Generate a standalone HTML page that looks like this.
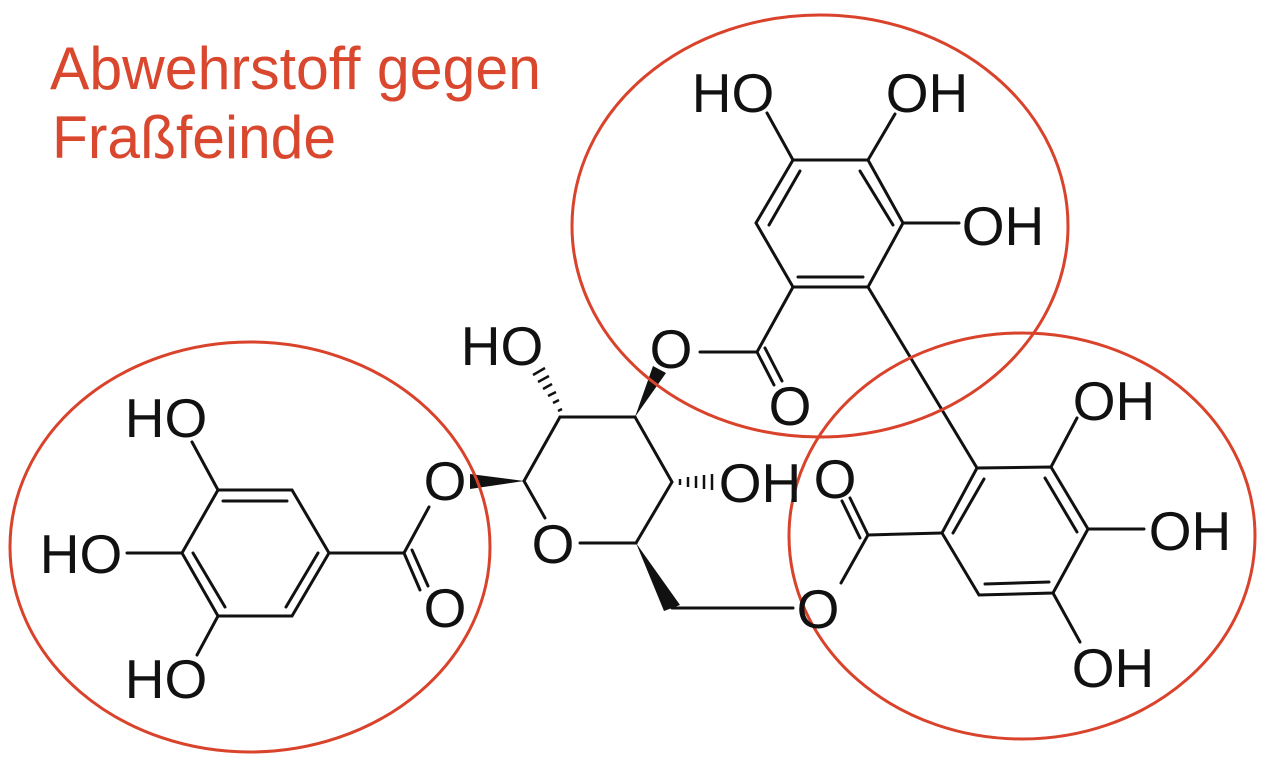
<!DOCTYPE html>
<html><head><meta charset="utf-8"><style>
html,body{margin:0;padding:0;background:#fff;}
svg{display:block;}
text{font-family:"Liberation Sans",Arial,sans-serif;}
</style></head><body>
<svg width="1272" height="766" viewBox="0 0 1272 766" xmlns="http://www.w3.org/2000/svg">
<g fill="#d9482e" font-size="60">
<text x="50" y="89" textLength="491" lengthAdjust="spacingAndGlyphs">Abwehrstoff gegen</text>
<text x="52" y="158" textLength="284" lengthAdjust="spacingAndGlyphs">Fraßfeinde</text>
</g>
<g fill="none" stroke="#111" stroke-width="3" stroke-linecap="round">
<polyline points="218,490 292,490 329,553 292,616 218,616 182,553 218,490"/>
<line x1="223" y1="501" x2="287" y2="501"/>
<line x1="193" y1="553" x2="225" y2="607"/>
<line x1="318" y1="553" x2="286" y2="607"/>
<line x1="218" y1="490" x2="192" y2="442"/>
<line x1="182" y1="553" x2="127" y2="553"/>
<line x1="218" y1="616" x2="197" y2="655"/>
<line x1="329" y1="553" x2="404" y2="553"/>
<line x1="404" y1="553" x2="429" y2="507"/>
<line x1="404" y1="553" x2="420" y2="590"/>
<line x1="412" y1="550" x2="428" y2="586"/>
<line x1="524" y1="481" x2="560" y2="417"/>
<line x1="560" y1="417" x2="635" y2="417"/>
<line x1="635" y1="417" x2="672" y2="482"/>
<line x1="672" y1="482" x2="636" y2="543"/>
<line x1="636" y1="543" x2="580" y2="543"/>
<line x1="524" y1="481" x2="545" y2="518"/>
<line x1="672" y1="608" x2="793" y2="608"/>
<polyline points="793,160 868,160 903,223 868,287 793,287 756,223 793,160"/>
<line x1="800" y1="171" x2="769" y2="225"/>
<line x1="860" y1="171" x2="893" y2="225"/>
<line x1="798" y1="277" x2="863" y2="277"/>
<line x1="793" y1="160" x2="767" y2="113"/>
<line x1="868" y1="160" x2="895" y2="114"/>
<line x1="903" y1="223" x2="959" y2="223"/>
<line x1="793" y1="287" x2="757" y2="352"/>
<line x1="757" y1="352" x2="700" y2="352"/>
<line x1="757" y1="352" x2="774" y2="385"/>
<line x1="765" y1="348" x2="782" y2="381"/>
<line x1="868" y1="287" x2="977" y2="468"/>
<polyline points="977,468 1051,467 1088,529 1053,593 979,595 942,533 977,468"/>
<line x1="984" y1="479" x2="953" y2="533"/>
<line x1="1045" y1="478" x2="1077" y2="532"/>
<line x1="985" y1="584" x2="1049" y2="582"/>
<line x1="1051" y1="467" x2="1077" y2="418"/>
<line x1="1088" y1="529" x2="1144" y2="529"/>
<line x1="1053" y1="593" x2="1080" y2="642"/>
<line x1="942" y1="533" x2="868" y2="535"/>
<line x1="868" y1="535" x2="850" y2="498"/>
<line x1="860" y1="538" x2="842" y2="501"/>
<line x1="868" y1="535" x2="841" y2="583"/>
</g>
<g fill="#111">
<polygon points="470,474 470,489 524,481"/>
<polygon points="635,417 653,366 666,373"/>
<polygon points="636,543 664,611 680,605"/>
</g>
<g stroke="#111" stroke-width="2.5">
<line x1="558" y1="411" x2="562" y2="409"/>
<line x1="553" y1="403" x2="559" y2="400"/>
<line x1="548" y1="396" x2="556" y2="392"/>
<line x1="543" y1="389" x2="552" y2="384"/>
<line x1="538" y1="382" x2="549" y2="376"/>
<line x1="533" y1="375" x2="545" y2="368"/>
<line x1="680" y1="479" x2="680" y2="485"/>
<line x1="688" y1="477" x2="688" y2="487"/>
<line x1="696" y1="476" x2="696" y2="488"/>
<line x1="704" y1="475" x2="704" y2="489"/>
<line x1="712" y1="474" x2="712" y2="490"/>
</g>
<g fill="none" stroke="#d9432b" stroke-width="3">
<ellipse cx="250" cy="547" rx="240" ry="205"/>
<ellipse cx="820" cy="226" rx="248" ry="211"/>
<ellipse cx="1022" cy="536" rx="233" ry="203"/>
</g>
<g fill="#111" font-size="55" text-anchor="middle">
<text x="166" y="437">HO</text>
<text x="81" y="573">HO</text>
<text x="166" y="698">HO</text>
<text x="445" y="500">O</text>
<text x="445" y="627">O</text>
<text x="502" y="365">HO</text>
<text x="553" y="563">O</text>
<text x="760" y="502">OH</text>
<text x="733" y="112">HO</text>
<text x="927" y="112">OH</text>
<text x="1003" y="245">OH</text>
<text x="671" y="368">O</text>
<text x="790" y="425">O</text>
<text x="835" y="498">O</text>
<text x="818" y="628">O</text>
<text x="1114" y="420">OH</text>
<text x="1190" y="550">OH</text>
<text x="1113" y="687">OH</text>
</g>
</svg>
</body></html>
